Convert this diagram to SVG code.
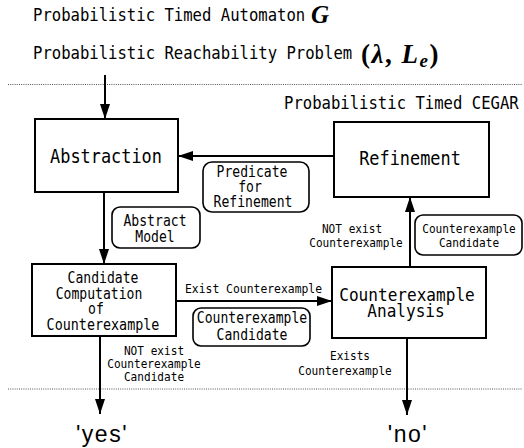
<svg xmlns="http://www.w3.org/2000/svg" width="524" height="448" viewBox="0 0 524 448">
<defs>
  <marker id="ah" markerUnits="userSpaceOnUse" viewBox="0 0 15 10" markerWidth="15" markerHeight="10" refX="15" refY="5" orient="auto">
    <path d="M0,0 L15,5 L0,10 z" fill="#000"/>
  </marker>
  <style>
    .box{fill:#fff;stroke:#000;stroke-width:2}
    .tag{fill:#fff;stroke:#000;stroke-width:1.6}
    .wire{stroke:#000;stroke-width:2;fill:none;marker-end:url(#ah)}
    .dots{stroke:#555;stroke-width:1;stroke-dasharray:1 1.2;fill:none}
    text{font-family:"DejaVu Sans Mono","Liberation Mono",monospace;fill:#000}
    /* monospace glyphs are stretched vertically by each text's transform
       to get the tall, narrow look of the lettering */
    .t{font-size:15.6px}
    .b{font-size:16.9px;text-anchor:middle}
    .a{font-size:16.1px;text-anchor:middle}
    .m{font-size:13.1px;text-anchor:middle}
    .s{font-size:11.1px;text-anchor:middle}
    .math{font-family:"Liberation Serif","DejaVu Serif",serif;font-weight:bold}
    .ans{font-family:"Liberation Sans",Arial,sans-serif;font-size:23px;text-anchor:middle;letter-spacing:1.5px}
  </style>
</defs>

<!-- header: model and problem given to the procedure -->
<g id="header">
  <text class="t" transform="translate(33,21) scale(1,1.14)">Probabilistic Timed Automaton</text>
  <text class="math" x="311" y="23" font-size="25" font-style="italic">G</text>
  <text class="t" transform="translate(33,59) scale(1,1.14)">Probabilistic Reachability Problem</text>
  <text class="math" x="361" y="63" font-size="27" letter-spacing="1.5">(<tspan font-style="italic">λ</tspan>, <tspan font-style="italic">L</tspan><tspan font-style="italic" font-size="19" dy="4">e</tspan><tspan dy="-4">)</tspan></text>
  <text class="t" transform="translate(284,109) scale(1,1.14)">Probabilistic Timed CEGAR</text>
</g>

<!-- loop boundary -->
<g id="bounds">
  <path class="dots" d="M8,84.5 H522"/>
  <path class="dots" d="M8,389 H522"/>
</g>

<!-- connectors -->
<g id="connectors">
  <path class="wire" d="M105,75 V119"/>
  <path class="wire" d="M334,156 H178"/>
  <path class="wire" d="M104,192 V264"/>
  <path class="wire" d="M176,301 H332"/>
  <path class="wire" d="M410,267 V197"/>
  <path class="wire" d="M100,336 V414"/>
  <path class="wire" d="M407,338 V415"/>
</g>

<!-- edge labels -->
<g id="labels">
  <text class="s" style="text-anchor:start;font-size:11.4px" transform="translate(185,293) scale(1,1.15)">Exist Counterexample</text>
  <text class="s" transform="translate(352,233) scale(1,1.08)">NOT exist</text>
  <text class="s" transform="translate(356,247) scale(1,1.08)">Counterexample</text>
  <text class="s" transform="translate(154,355) scale(1,1.08)">NOT exist</text>
  <text class="s" transform="translate(154,368) scale(1,1.08)">Counterexample</text>
  <text class="s" transform="translate(154,381) scale(1,1.08)">Candidate</text>
  <text class="s" transform="translate(350,360) scale(1,1.08)">Exists</text>
  <text class="s" transform="translate(345,375) scale(1,1.08)">Counterexample</text>
</g>

<g id="abstraction">
  <rect class="box" x="35" y="119" width="143" height="73"/>
  <text class="b" transform="translate(106,163) scale(1,1.1)">Abstraction</text>
</g>

<g id="refinement">
  <rect class="box" x="334" y="122" width="155" height="75"/>
  <text class="b" transform="translate(410,165) scale(1,1.1)">Refinement</text>
</g>

<g id="predicate">
  <rect class="tag" x="203" y="162" width="106" height="50" rx="9"/>
  <text class="m" transform="translate(252,177) scale(1,1.15)">Predicate</text>
  <text class="m" transform="translate(250,192) scale(1,1.15)">for</text>
  <text class="m" transform="translate(253,207) scale(1,1.15)">Refinement</text>
</g>

<g id="abstract-model">
  <rect class="tag" x="112" y="207" width="88" height="41" rx="8"/>
  <text class="m" transform="translate(155,226) scale(1,1.15)">Abstract</text>
  <text class="m" transform="translate(155,242) scale(1,1.15)">Model</text>
</g>

<g id="candidate-computation">
  <rect class="box" x="32" y="264" width="144" height="72"/>
  <text class="m" transform="translate(103,283) scale(1,1.15)">Candidate</text>
  <text class="m" transform="translate(99,299) scale(1,1.15)">Computation</text>
  <text class="m" transform="translate(96,314) scale(1,1.15)">of</text>
  <text class="m" style="font-size:13.4px" transform="translate(103,330) scale(1,1.13)">Counterexample</text>
</g>

<g id="candidate-tag">
  <rect class="tag" x="193" y="308" width="117" height="38" rx="8"/>
  <text class="m" transform="translate(252,323) scale(1,1.15)">Counterexample</text>
  <text class="m" transform="translate(252,340) scale(1,1.15)">Candidate</text>
</g>

<g id="analysis">
  <rect class="box" x="332" y="267" width="154" height="71"/>
  <text class="a" transform="translate(407,301) scale(1,1.15)">Counterexample</text>
  <text class="a" transform="translate(406,317) scale(1,1.15)">Analysis</text>
</g>

<g id="candidate-tag-right">
  <rect class="tag" x="415" y="215" width="107" height="40" rx="8"/>
  <text class="s" transform="translate(469,233) scale(1,1.08)">Counterexample</text>
  <text class="s" transform="translate(469,247) scale(1,1.08)">Candidate</text>
</g>

<g id="answers">
  <text class="ans" x="102" y="442">'yes'</text>
  <text class="ans" x="408" y="442">'no'</text>
</g>
</svg>
